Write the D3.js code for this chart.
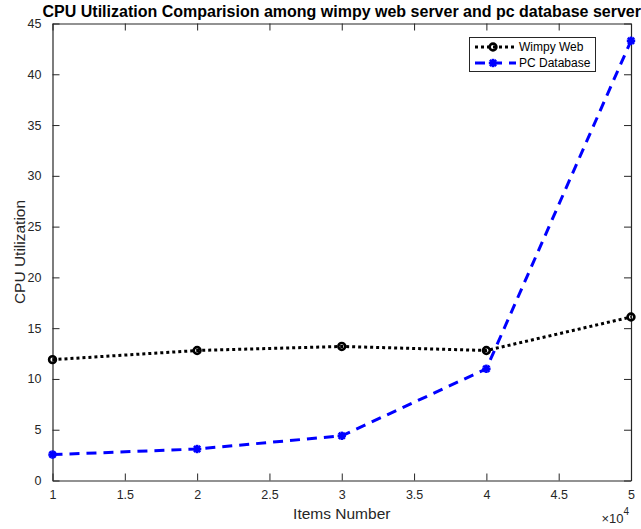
<!DOCTYPE html>
<html lang="en">
<head>
    <meta charset="UTF-8">
    <title>CPU Utilization</title>
    <script src="https://d3js.org/d3.v7.min.js"></script>
    <style>
        body, html {
            margin: 0;
            background-color: #fff;
            font-family: 'Liberation Sans', Arial, sans-serif;
        }
        svg { display: block; }
        .axis path, .axis line { stroke: #262626; }
        .axis text { fill: #262626; font-size: 12.5px; font-family: 'Liberation Sans', Arial, sans-serif; }
    </style>
</head>
<body>
<svg id="chart" width="641" height="529"></svg>

<script>
    // data
    const itemsNumber = [10000, 20000, 30000, 40000, 50000];
    const wimpyWeb = [11.9, 12.8, 13.2, 12.8, 16.1];
    const pcDatabase = [2.55, 3.1, 4.4, 11.0, 43.3];
    const xTicks = [10000, 15000, 20000, 25000, 30000, 35000, 40000, 45000, 50000];
    const yTicks = [0, 5, 10, 15, 20, 25, 30, 35, 40, 45];
    const seriesNames = ['Wimpy Web', 'PC Database'];

    const svg = d3.select('#chart');
    const plotLeft = 52.5, plotRight = 631, plotTop = 23.5, plotBottom = 480.5;

    const x = d3.scaleLinear().domain([10000, 50000]).range([plotLeft, plotRight]);
    const y = d3.scaleLinear().domain([0, 45]).range([plotBottom, plotTop]);

    // box + ticks (MATLAB style, ticks pointing inward)
    svg.append('g').attr('class', 'axis')
        .attr('transform', `translate(0,${plotBottom})`)
        .call(d3.axisBottom(x).tickValues(xTicks).tickSizeInner(-7).tickSizeOuter(0).tickPadding(10)
            .tickFormat(d => d3.format('~g')(d / 1e4)));
    svg.append('g').attr('class', 'axis')
        .attr('transform', `translate(0,${plotTop})`)
        .call(d3.axisTop(x).tickValues(xTicks).tickSizeInner(-7).tickSizeOuter(0).tickFormat(''));
    svg.append('g').attr('class', 'axis')
        .attr('transform', `translate(${plotLeft},0)`)
        .call(d3.axisLeft(y).tickValues(yTicks).tickSizeInner(-7).tickSizeOuter(0).tickPadding(11));
    svg.append('g').attr('class', 'axis')
        .attr('transform', `translate(${plotRight},0)`)
        .call(d3.axisRight(y).tickValues(yTicks).tickSizeInner(-7).tickSizeOuter(0).tickFormat(''));

    svg.selectAll('.axis .domain').attr('stroke-width', 1.2);

    // exponent label
    const expo = svg.append('text')
        .attr('x', 629).attr('y', 523)
        .attr('text-anchor', 'end')
        .attr('fill', '#262626')
        .style('font-size', '13px');
    expo.append('tspan').text('\u00d710');
    expo.append('tspan').attr('dy', -8).style('font-size', '10px').text('4');

    // titles
    svg.append('text')
        .attr('x', (plotLeft + plotRight) / 2).attr('y', 17)
        .attr('text-anchor', 'middle')
        .style('font-size', '16px').style('font-weight', 'bold')
        .attr('fill', '#000')
        .text('CPU Utilization Comparision among wimpy web server and pc database server');

    svg.append('text')
        .attr('x', (plotLeft + plotRight) / 2).attr('y', 519)
        .attr('text-anchor', 'middle')
        .style('font-size', '15.5px')
        .attr('fill', '#262626')
        .text('Items Number');

    svg.append('text')
        .attr('transform', `translate(25,${(plotTop + plotBottom) / 2}) rotate(-90)`)
        .attr('text-anchor', 'middle')
        .style('font-size', '15.5px')
        .attr('fill', '#262626')
        .text('CPU Utilization');

    const line = d3.line().x(d => x(d[0])).y(d => y(d[1]));
    const wimpyPts = itemsNumber.map((v, i) => [v, wimpyWeb[i]]);
    const pcPts = itemsNumber.map((v, i) => [v, pcDatabase[i]]);

    function circleMarker(g, cx, cy) {
        g.append('circle')
            .attr('cx', cx).attr('cy', cy).attr('r', 3.4)
            .attr('fill', 'none').attr('stroke', '#000').attr('stroke-width', 2.6);
    }

    function starMarker(g, cx, cy) {
        const s = 4.2, d = 3.1;
        [[-s, 0, s, 0], [0, -s, 0, s], [-d, -d, d, d], [-d, d, d, -d]].forEach(p => {
            g.append('line')
                .attr('x1', cx + p[0]).attr('y1', cy + p[1])
                .attr('x2', cx + p[2]).attr('y2', cy + p[3])
                .attr('stroke', '#0000ff').attr('stroke-width', 2.6);
        });
        g.append('circle').attr('cx', cx).attr('cy', cy).attr('r', 2.5).attr('fill', '#0000ff');
    }

    // Wimpy web
    svg.append('path').datum(wimpyPts)
        .attr('d', line)
        .attr('fill', 'none').attr('stroke', '#000')
        .attr('stroke-width', 3).attr('stroke-dasharray', '3,3');
    const gW = svg.append('g');
    wimpyPts.forEach(p => circleMarker(gW, x(p[0]), y(p[1])));

    // PC database
    svg.append('path').datum(pcPts)
        .attr('d', line)
        .attr('fill', 'none').attr('stroke', '#0000ff')
        .attr('stroke-width', 3).attr('stroke-dasharray', '10,7');
    const gP = svg.append('g');
    pcPts.forEach(p => starMarker(gP, x(p[0]), y(p[1])));

    // legend
    const lg = svg.append('g');
    lg.append('rect')
        .attr('x', 469.5).attr('y', 37.5).attr('width', 126).attr('height', 34)
        .attr('fill', '#fff').attr('stroke', '#262626').attr('stroke-width', 1);

    const rows = [47, 63];
    lg.append('line').attr('x1', 475).attr('x2', 516).attr('y1', rows[0]).attr('y2', rows[0])
        .attr('stroke', '#000').attr('stroke-width', 3).attr('stroke-dasharray', '3,3');
    circleMarker(lg, 493, rows[0]);
    lg.append('line').attr('x1', 475).attr('x2', 516).attr('y1', rows[1]).attr('y2', rows[1])
        .attr('stroke', '#0000ff').attr('stroke-width', 3).attr('stroke-dasharray', '10,7');
    starMarker(lg, 493, rows[1]);

    seriesNames.forEach((name, i) => {
        lg.append('text')
            .attr('x', 519).attr('y', rows[i] + 4)
            .style('font-size', '12px')
            .attr('fill', '#000')
            .text(name);
    });
</script>
</body>
</html>
